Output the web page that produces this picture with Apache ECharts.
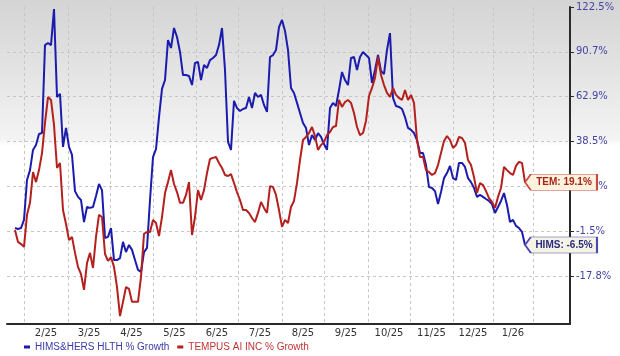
<!DOCTYPE html>
<html><head><meta charset="utf-8">
<script src="https://cdn.jsdelivr.net/npm/echarts@6/dist/echarts.min.js"></script>
<style>html,body{margin:0;padding:0;background:#fff}#c{width:620px;height:356px}</style>
</head><body><div id="c"></div>
<script>
// x: sample index (~every other trading day), month labels centred between month boundaries
const monthLabels = ['2/25','3/25','4/25','5/25','6/25','7/25','8/25','9/25','10/25','11/25','12/25','1/26'];
const monthStarts = [3,17.67,31.67,46,60.33,74.33,89,103,117.67,131.67,146,159.33,172.67];
// right axis tick values (% growth)
const yTickValues = [-17.8,-1.5,17.2,38.5,62.9,90.7,122.5];
const yTickLabels = ['-17.8%','-1.5%','17.2%','38.5%','62.9%','90.7%','122.5%'];
const seriesNames = ['HIMS&HERS HLTH % Growth','TEMPUS AI INC % Growth'];
const shortNames = ['HIMS','TEM'];
const hims = [-0.2,-0.6,-0.2,3.2,20.2,24.9,34.5,36.8,42.6,43.1,
95.5,97.0,95.5,121.1,62.7,64.6,35.9,45.9,35.9,32.1,
15.2,12.8,11.5,2.3,8.6,8.2,8.6,13.2,18.3,15.6,
-4.0,-3.6,-0.2,-12.0,-12.0,-11.3,-5.4,-9.1,-6.5,-8.3,
-12.0,-15.6,-16.3,-9.1,-7.6,11.5,31.1,34.9,51.8,67.7,
73.2,99.1,93.4,107.6,101.2,90.6,76.3,76.3,75.7,70.1,
83.8,84.4,73.2,82.5,80.7,85.6,86.9,88.7,95.5,107.6,
79.4,38.3,34.5,60.6,56.7,55.1,56.2,56.7,62.7,56.7,
65.2,62.7,64.0,58.4,54.6,87.5,88.7,92.0,108.3,113.3,
105.5,92.0,68.3,65.2,59.5,54.0,48.6,45.9,36.8,42.0,
39.3,43.1,41.0,37.3,34.5,56.7,59.5,57.8,67.0,78.2,
73.2,70.1,86.9,87.5,79.4,87.5,90.6,88.7,86.9,71.4,
79.4,88.7,78.8,76.9,92.0,104.0,62.2,57.8,57.3,56.2,
51.8,45.9,44.8,43.1,39.3,33.0,33.0,27.3,16.9,16.5,
15.2,9.8,14.8,21.1,23.5,26.9,21.1,20.2,28.3,28.3,
26.4,21.1,19.2,16.5,12.8,13.6,12.8,11.9,11.1,9.8,
6.1,8.6,11.1,14.4,9.4,2.3,3.2,0.7,-0.2,-1.8,
-6.5];
const tem = [-1.0,-5.4,-6.2,-7.2,5.3,10.3,24.0,19.2,24.9,33.0,
48.6,62.7,61.1,47.5,25.9,28.3,7.3,1.5,-4.7,-3.6,
-9.4,-14.5,-17.1,-22.2,-13.1,-9.4,-14.9,-3.6,5.3,4.4,
-9.8,-12.3,-10.9,-14.5,-21.3,-30.5,-26.0,-21.3,-21.9,-26.0,
-26.0,-26.0,-18.1,-2.5,-1.8,-1.8,3.2,1.9,-3.3,4.4,
14.4,19.2,24.9,18.3,14.8,10.3,10.3,13.6,19.2,-2.9,
4.4,15.6,11.5,15.6,23.5,30.2,30.7,31.1,28.3,25.9,
22.6,22.1,23.0,18.8,14.8,11.5,7.3,7.3,6.1,4.0,
2.3,6.1,10.7,8.2,6.1,17.3,16.9,13.6,7.3,0.3,
3.2,1.9,8.6,11.1,18.8,29.7,39.3,41.0,43.1,46.4,
41.5,34.5,36.8,38.3,42.0,43.7,46.4,46.9,61.1,57.3,
60.0,61.1,59.5,54.0,46.4,42.0,43.1,49.7,63.3,68.3,
74.5,87.5,76.3,70.1,65.2,62.7,68.3,64.0,62.2,61.1,
67.0,61.1,64.0,59.5,39.3,31.1,31.1,24.9,24.0,22.6,
23.5,27.3,33.0,38.8,41.5,39.3,35.4,36.8,41.0,40.4,
37.8,29.7,27.3,21.6,14.4,18.8,17.8,15.2,12.3,10.7,
8.2,12.8,16.5,26.4,24.9,23.5,22.6,26.9,28.8,28.3,
19.1];

// the value scale is spaced by tick index (log-like); map % -> tick-index space
const belowRef = -32.0;
function toT(v){
  const tv = yTickValues;
  if (v < tv[0]) return (v - tv[0]) / (tv[0] - belowRef);
  for (let i = 0; i < tv.length - 1; i++) if (v <= tv[i+1]) return i + (v - tv[i]) / (tv[i+1] - tv[i]);
  const n = tv.length - 1;
  return n + (v - tv[n]) / (tv[n] - tv[n-1]);
}
const yTicks = yTickValues.map((v,i)=>i);
const labelPos = monthLabels.map((l,i)=>(monthStarts[i]+monthStarts[i+1])/2);
const colors = ['#1b1bae','#b3201e'];
const legendColors = ['#3a3aa8','#c03434'];
const boxFill = ['#f5f4e4','#fdf2dd'];
const boxBorder = ['#4a4ab0','#c84a40'];
const boxText = ['#2a2a80','#a82418'];
const gridColor = '#c6c6c6';

function endMark(arr, k){
  const last = arr.length - 1;
  return {
    symbol: 'path://M0 8L6 0L74 0L74 16L6 16Z',
    symbolSize: [72, 16],
    symbolOffset: [36, 0],
    symbolKeepAspect: false,
    silent: true,
    animation: false,
    itemStyle: {color: boxFill[k], borderColor: boxBorder[k], borderWidth: 1},
    label: {show: true, position: 'inside', offset: [3, 0],
      formatter: shortNames[k] + ': ' + arr[last].toFixed(1) + '%',
      color: boxText[k], fontWeight: 'bold', fontSize: 10, fontFamily: 'Liberation Sans'},
    data: [{coord: [last, toT(arr[last])]}]
  };
}

const chart = echarts.init(document.getElementById('c'), null, {renderer: 'canvas'});
chart.setOption({
  animation: false,
  backgroundColor: {type: 'linear', x: 0, y: 0, x2: 0, y2: 1,
    colorStops: [{offset: 0, color: '#d4d4d4'}, {offset: 0.39, color: '#f3f3f3'}, {offset: 0.41, color: '#ffffff'}, {offset: 1, color: '#ffffff'}]},
  grid: {left: 7, right: 50, top: 7, bottom: 32, containLabel: false},
  legend: {
    left: 19, top: 337, icon: 'rect', itemWidth: 6, itemHeight: 3, itemGap: 8,
    textStyle: {fontSize: 10, fontFamily: 'Liberation Sans'},
    data: seriesNames.map((n,k)=>({name: n, textStyle: {color: legendColors[k]}}))
  },
  xAxis: {
    type: 'value', min: -2.667, max: 185,
    axisLine: {show: true, onZero: false, lineStyle: {color: '#2a2a2a', width: 2}},
    axisTick: {show: false, customValues: monthStarts},
    axisLabel: {customValues: labelPos, color: '#333', fontSize: 10, fontFamily: 'DejaVu Sans', margin: 4,
      formatter: v => { let b = 0; labelPos.forEach((p,i)=>{ if (Math.abs(p-v) < Math.abs(labelPos[b]-v)) b = i; }); return monthLabels[b]; }},
    splitLine: {show: true, lineStyle: {color: gridColor, type: [3,3], width: 1}}
  },
  yAxis: {
    type: 'value', position: 'right', min: -1.071, max: 6,
    axisLine: {show: true, onZero: false, lineStyle: {color: '#2a2a2a', width: 2}},
    axisTick: {show: true, customValues: yTicks, length: 4, lineStyle: {color: '#2a2a2a'}},
    axisLabel: {customValues: yTicks, showMaxLabel: true, color: '#4444a4', fontSize: 10, fontFamily: 'DejaVu Sans', margin: 6,
      formatter: v => yTickLabels[Math.round(v)]},
    splitLine: {show: true, lineStyle: {color: yTicks.map((t,i)=> i === yTicks.length - 1 ? 'rgba(0,0,0,0)' : gridColor), type: [3,3], width: 1}}
  },
  series: [hims, tem].map((arr,k)=>({
    name: seriesNames[k], type: 'line', showSymbol: false, symbol: 'none',
    color: colors[k],
    lineStyle: {width: 2, color: colors[k]},
    data: arr.map((v,i)=>[i, toT(v)]),
    markPoint: endMark(arr, k),
    z: 3 + k
  }))
});
</script></body></html>
